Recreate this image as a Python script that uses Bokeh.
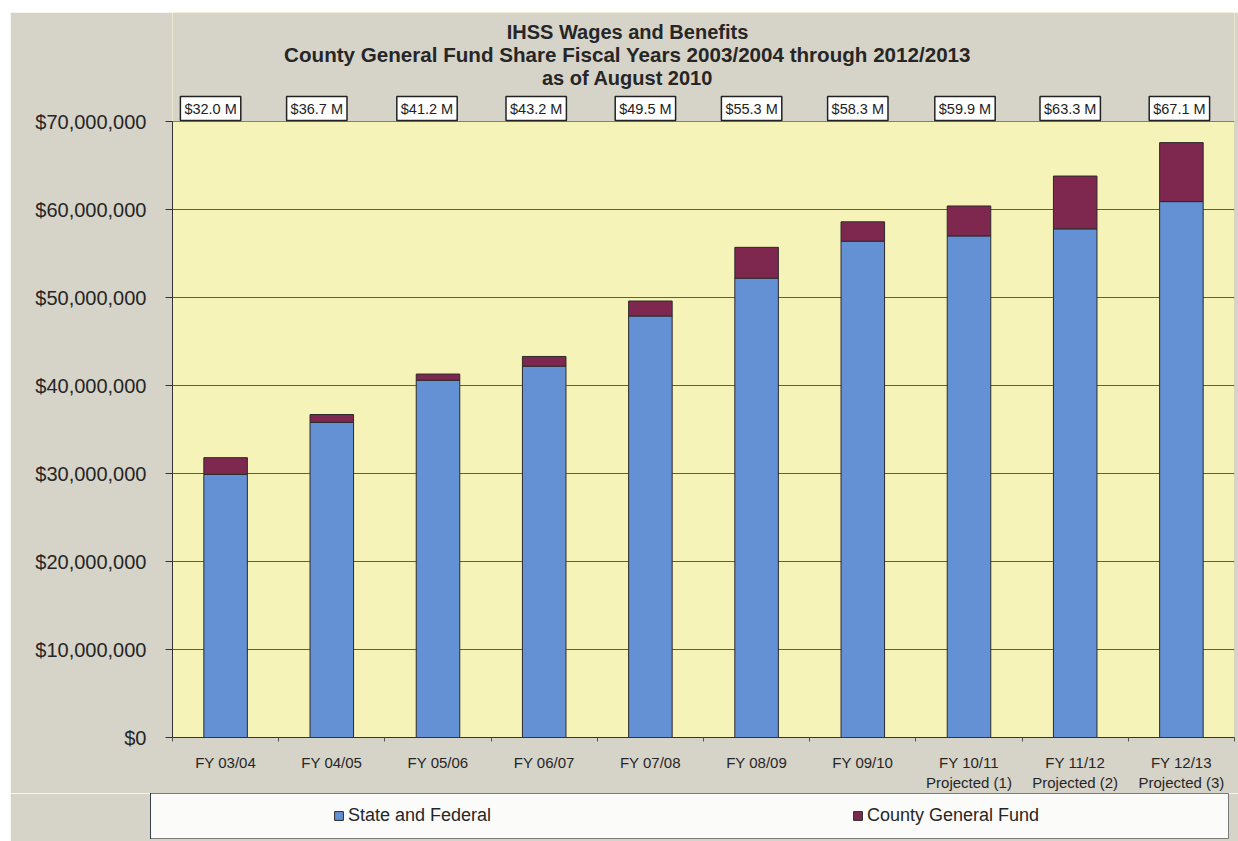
from bokeh.plotting import figure
from bokeh.layouts import column
from bokeh.models import (ColumnDataSource, Range1d, FixedTicker, CustomJSTickFormatter,
                          Label, BoxAnnotation)
from bokeh.embed import file_html
from bokeh.resources import INLINE

# ---- data (millions of dollars) ----
categories = ["FY 03/04", "FY 04/05", "FY 05/06", "FY 06/07", "FY 07/08", "FY 08/09",
              "FY 09/10", "FY 10/11\nProjected (1)", "FY 11/12\nProjected (2)",
              "FY 12/13\nProjected (3)"]
state_federal = [29.9, 35.8, 40.6, 42.2, 47.9, 52.2, 56.4, 57.0, 57.8, 60.9]
county_general = [1.9, 0.9, 0.7, 1.1, 1.7, 3.5, 2.2, 3.4, 6.0, 6.7]
total_labels = ["$32.0 M", "$36.7 M", "$41.2 M", "$43.2 M", "$49.5 M", "$55.3 M",
                "$58.3 M", "$59.9 M", "$63.3 M", "$67.1 M"]
y_ticks = [0, 10, 20, 30, 40, 50, 60, 70]
series_names = ["State and Federal", "County General Fund"]
title_lines = ["IHSS Wages and Benefits",
               "County General Fund Share Fiscal Years 2003/2004 through 2012/2013",
               "as of August 2010"]

# style: horizontal nudges (px) of the hand-placed total boxes
box_nudge = [-15, -15, -11, -8, -5, -5, -5, -4, -5, -2]

FONT = "Liberation Sans"
BLUE = "#6490D4"
MAROON = "#7E2850"
GRAY_BG = "#D6D3C8"
YELLOW = "#F6F3B9"
Y_MAX = 70
n = len(categories)
xs = [i + 0.5 for i in range(n)]
source = ColumnDataSource(dict(x=xs, state=state_federal, county=county_general))

# main chart: frame reaches to the top so the titles and total boxes live inside it
FRAME_H = 725          # px from top of chart area to the $0 line
PLOT_H = 616           # px from $0 to $70,000,000
p = figure(width=1228, height=781, output_backend="svg", toolbar_location=None,
           x_range=Range1d(0, n), y_range=Range1d(0, Y_MAX * FRAME_H / PLOT_H),
           min_border_left=162, min_border_right=4, min_border_top=0, min_border_bottom=56)
p.border_fill_color = GRAY_BG
p.background_fill_color = YELLOW
p.outline_line_color = None

# grey area above the plot area and the plot-area outline
p.add_layout(BoxAnnotation(bottom=Y_MAX, fill_color=GRAY_BG, fill_alpha=1,
                           line_color=None, level="underlay"))
p.add_layout(BoxAnnotation(left=0, right=n, bottom=0, top=Y_MAX, fill_alpha=0,
                           line_color="#4a4a40", line_width=1, level="underlay"))

p.vbar_stack(["state", "county"], x="x", width=0.41, source=source,
             color=[BLUE, MAROON], line_color="#2a2a2a", line_width=1)

p.xgrid.grid_line_color = None
p.ygrid.grid_line_color = "#5e5e50"
p.ygrid.grid_line_width = 1

p.yaxis.ticker = FixedTicker(ticks=y_ticks)
p.yaxis.bounds = (0, Y_MAX)
p.yaxis.formatter = CustomJSTickFormatter(code="return '$' + Math.round(tick*1e6).toLocaleString('en-US');")
p.yaxis.major_label_text_font = FONT
p.yaxis.major_label_text_font_size = "20px"
p.yaxis.major_label_text_color = "#262626"
p.yaxis.axis_line_color = "#333333"
p.yaxis.major_tick_line_color = "#333333"
p.yaxis.major_tick_out = 7
p.yaxis.major_tick_in = 0
p.yaxis.minor_tick_line_color = None
p.yaxis.major_label_standoff = 19

p.xaxis.ticker = FixedTicker(ticks=xs, minor_ticks=[float(i) for i in range(n + 1)])
p.xaxis.formatter = CustomJSTickFormatter(args=dict(labels=categories),
                                          code="return labels[Math.round(tick - 0.5)];")
p.xaxis.major_label_text_font = FONT
p.xaxis.major_label_text_font_size = "15px"
p.xaxis.major_label_text_color = "#262626"
p.xaxis.axis_line_color = "#333333"
p.xaxis.major_tick_line_color = None
p.xaxis.minor_tick_line_color = "#555555"
p.xaxis.minor_tick_out = 4
p.xaxis.minor_tick_in = 0
p.xaxis.major_label_standoff = 10

# titles
title_sizes = ["20px", "20.6px", "20px"]
for k, line in enumerate(title_lines):
    p.add_layout(Label(x=n / 2, y=Y_MAX, x_offset=-76, y_offset=90 - 23 * k, text=line,
                       text_font=FONT, text_font_style="bold", text_font_size=title_sizes[k],
                       text_color="#262626", text_align="center", text_baseline="middle"))

# total labels
for xv, t, dx in zip(xs, total_labels, box_nudge):
    p.add_layout(Label(x=xv, y=Y_MAX, x_offset=dx, y_offset=13, text=t,
                       text_font=FONT, text_font_size="14.5px", text_color="#222222",
                       text_align="center", text_baseline="middle",
                       background_fill_color="white", border_line_color="#222222",
                       border_line_width=1.5, padding=4))

# legend strip
lp = figure(width=1228, height=48, output_backend="svg", toolbar_location=None,
            x_range=Range1d(1000, 1001), y_range=Range1d(0, 1),
            x_axis_type=None, y_axis_type=None,
            min_border_left=140, min_border_right=10, min_border_top=0, min_border_bottom=3)
lp.border_fill_color = GRAY_BG
lp.background_fill_color = "#FBFBFA"
lp.outline_line_color = "#7a7a7a"
lp.xgrid.grid_line_color = None
lp.ygrid.grid_line_color = None
lp.vbar_stack(["state", "county"], x="x", width=0.41, source=source,
              color=[BLUE, MAROON], line_color="#2a2a2a", line_width=1,
              legend_label=series_names)
lg = lp.legend[0]
lg.location = (183, 12)
lg.orientation = "horizontal"
lg.background_fill_alpha = 0
lg.border_line_color = None
lg.padding = 0
lg.margin = 0
lg.glyph_width = 11
lg.glyph_height = 11
lg.label_standoff = 4
lg.label_width = 200
lg.spacing = 304
lg.label_text_font = FONT
lg.label_text_font_size = "18px"
lg.label_text_color = "#262626"

layout = column(column(p), column(lp), spacing=0, margin=(12, 0, 0, 10))
open("out.html", "w").write(file_html(layout, INLINE))
